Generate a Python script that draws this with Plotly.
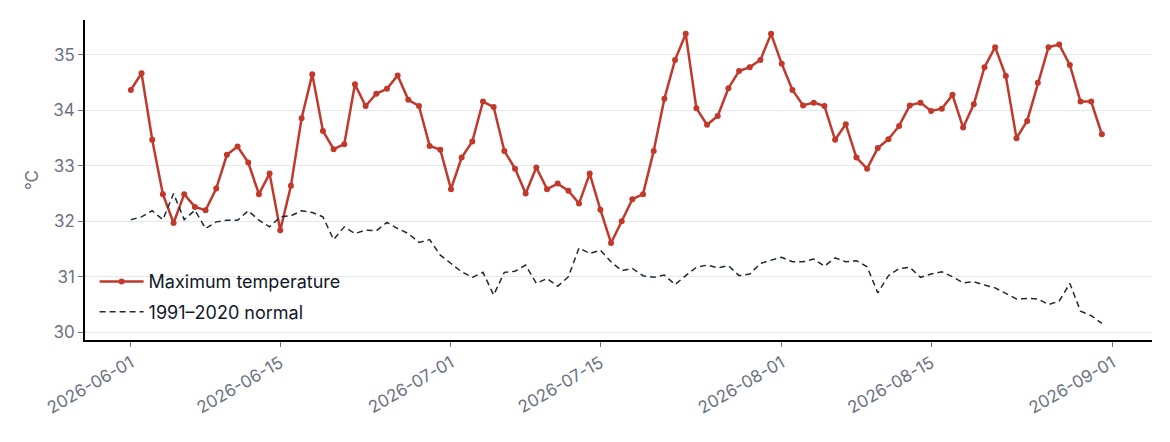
import plotly.graph_objects as go
import pandas as pd

dates = pd.date_range("2026-06-01", "2026-08-31", freq="D")

max_temp = [
    34.37, 34.67, 33.47, 32.49, 31.97, 32.49, 32.26, 32.20, 32.59, 33.20,
    33.35, 33.06, 32.49, 32.86, 31.84, 32.64, 33.86, 34.65, 33.63, 33.30,
    33.39, 34.47, 34.08, 34.30, 34.39, 34.63, 34.19, 34.08, 33.36, 33.29,
    32.58, 33.15, 33.44, 34.16, 34.06, 33.27, 32.95, 32.50, 32.97, 32.58,
    32.68, 32.55, 32.32, 32.86, 32.21, 31.61, 32.00, 32.40, 32.49, 33.27,
    34.21, 34.91, 35.38, 34.04, 33.74, 33.90, 34.40, 34.71, 34.78, 34.91,
    35.38, 34.84, 34.37, 34.09, 34.14, 34.08, 33.47, 33.75, 33.15, 32.95,
    33.32, 33.48, 33.72, 34.09, 34.14, 33.99, 34.03, 34.28, 33.69, 34.11,
    34.78, 35.14, 34.62, 33.50, 33.81, 34.50, 35.14, 35.19, 34.82, 34.16,
    34.16, 33.57,
]

normal = [
    32.03, 32.08, 32.19, 32.03, 32.50, 32.03, 32.20, 31.87, 31.99, 32.02,
    32.02, 32.19, 32.02, 31.90, 32.08, 32.10, 32.19, 32.16, 32.08, 31.67,
    31.90, 31.78, 31.84, 31.83, 31.98, 31.87, 31.78, 31.62, 31.67, 31.39,
    31.24, 31.09, 30.99, 31.08, 30.67, 31.08, 31.10, 31.21, 30.88, 30.97,
    30.83, 31.00, 31.52, 31.42, 31.48, 31.27, 31.11, 31.15, 31.02, 30.99,
    31.03, 30.86, 31.02, 31.17, 31.21, 31.16, 31.20, 31.02, 31.05, 31.24,
    31.30, 31.35, 31.27, 31.27, 31.32, 31.19, 31.34, 31.27, 31.29, 31.18,
    30.71, 31.02, 31.15, 31.17, 30.99, 31.05, 31.09, 31.00, 30.89, 30.91,
    30.85, 30.80, 30.70, 30.60, 30.61, 30.60, 30.50, 30.56, 30.88, 30.38,
    30.30, 30.16,
]

tick_vals = ["2026-06-01", "2026-06-15", "2026-07-01", "2026-07-15",
             "2026-08-01", "2026-08-15", "2026-09-01"]
y_ticks = [30, 31, 32, 33, 34, 35]

fig = go.Figure()
fig.add_trace(go.Scatter(
    x=dates, y=max_temp, mode="lines+markers", name="Maximum temperature",
    legendgroup="a",
    line=dict(color="#c0392b", width=2.5),
    marker=dict(color="#c0392b", size=6),
))
fig.add_trace(go.Scatter(
    x=dates, y=normal, mode="lines", name="1991–2020 normal",
    legendgroup="b",
    line=dict(color="#1f2937", width=1.5, dash="6px,4px"),
))

fig.update_layout(
    width=1170, height=442,
    margin=dict(l=85, r=18, t=20, b=102),
    paper_bgcolor="white", plot_bgcolor="white",
    font=dict(family="Inter, sans-serif", size=17, color="#6b7280"),
    showlegend=True,
    legend=dict(x=0.009, y=0.24, xanchor="left", yanchor="top",
                bgcolor="rgba(0,0,0,0)", itemwidth=44,
                traceorder="grouped", tracegroupgap=4,
                font=dict(color="#111827", size=18)),
    xaxis=dict(
        range=["2026-05-27 16:48", "2026-09-04 16:48"],
        tickvals=tick_vals, ticktext=tick_vals, tickangle=-30,
        showgrid=False, showline=True, linecolor="black", linewidth=1.5,
        ticks="outside", ticklen=5, tickcolor="#6b7280",
        tickfont=dict(size=17, color="#6b7280"),
    ),
    yaxis=dict(
        range=[29.86, 35.63],
        tickvals=y_ticks,
        showgrid=True, gridcolor="#e5e7eb", gridwidth=1,
        showline=True, linecolor="black", linewidth=1.5,
        ticks="outside", ticklen=5, tickcolor="#6b7280",
        tickfont=dict(size=17, color="#6b7280"),
        title=dict(text="°C", font=dict(size=17, color="#6b7280"), standoff=10),
        zeroline=False,
    ),
)

fig.write_html("out.html")
